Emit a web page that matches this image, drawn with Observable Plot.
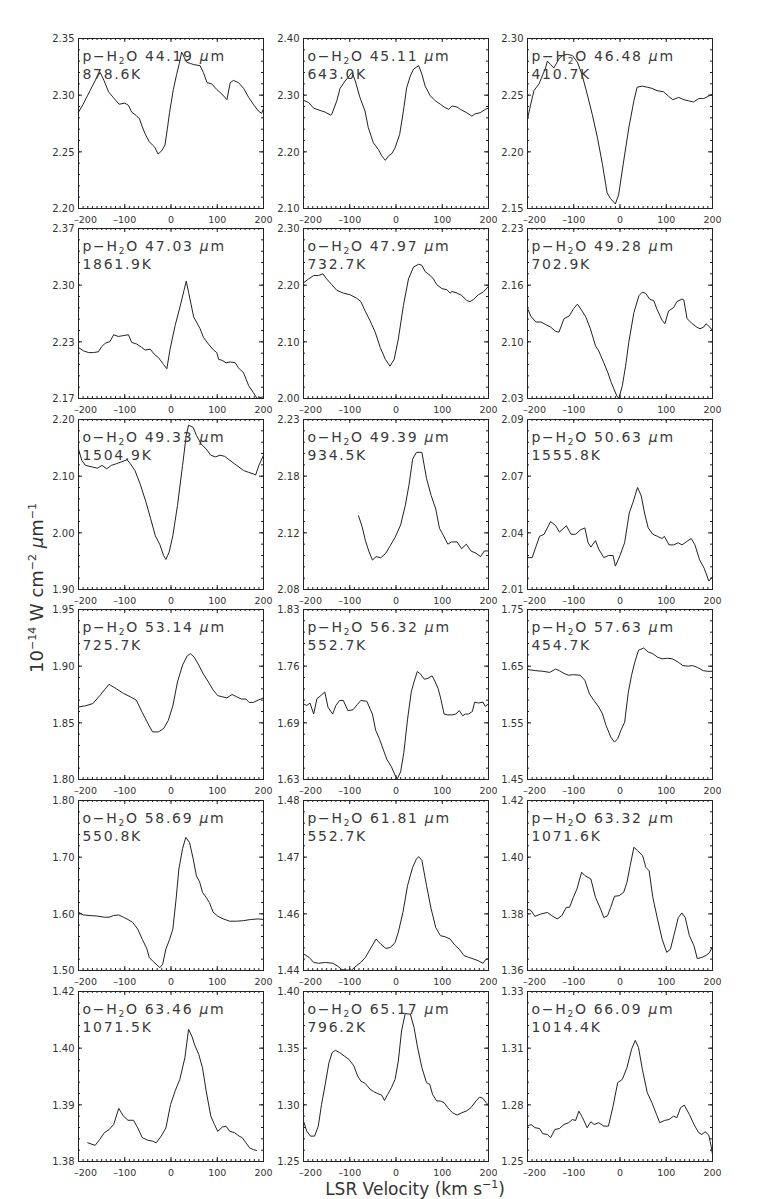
<!DOCTYPE html>
<html><head><meta charset="utf-8">
<script src="https://cdn.jsdelivr.net/npm/d3@7"></script>
<script src="https://cdn.jsdelivr.net/npm/@observablehq/plot@0.6"></script>
<style>
body{margin:0;background:#fff;}
#wrap{position:relative;width:763px;height:1199px;overflow:hidden;font-family:"DejaVu Sans",sans-serif;color:#333;}
#wrap svg{position:absolute;overflow:visible;}
#wrap g[aria-label="text"] text{letter-spacing:1.7px;}
.ylab{position:absolute;left:37px;top:588px;transform:translate(-50%,-50%) rotate(-90deg);white-space:nowrap;font-size:18px;line-height:20px;}
.xlab{position:absolute;left:415px;top:1179px;transform:translateX(-50%);white-space:nowrap;font-size:17px;line-height:20px;}
sup{font-size:11px;position:relative;top:-7px;vertical-align:baseline;line-height:0;}
</style></head>
<body><div id="wrap">
<div class="ylab">10<sup>−14</sup> W cm<sup>−2</sup> <i>μ</i>m<sup>−1</sup></div>
<div class="xlab">LSR Velocity (km s<sup>−1</sup>)</div>
</div>
<script>
const species = ["p","o","p","p","o","p","o","o","p","p","p","p","o","p","p","o","o","o"];
const wavelengths = ["44.19","45.11","46.48","47.03","47.97","49.28","49.33","49.39","50.63","53.14","56.32","57.63","58.69","61.81","63.32","63.46","65.17","66.09"];
const temperatures = ["878.6K","643.0K","410.7K","1861.9K","732.7K","702.9K","1504.9K","934.5K","1555.8K","725.7K","552.7K","454.7K","550.8K","552.7K","1071.6K","1071.5K","796.2K","1014.4K"];
const yDomains = [[2.20,2.35],[2.10,2.40],[2.15,2.30],[2.17,2.37],[2.00,2.30],[2.03,2.23],[1.90,2.20],[2.08,2.23],[2.01,2.09],[1.80,1.95],[1.63,1.83],[1.45,1.75],[1.50,1.80],[1.44,1.48],[1.36,1.42],[1.38,1.42],[1.25,1.40],[1.25,1.335]];
const yTickLabels = [
 ["2.20","2.25","2.30","2.35"],["2.10","2.20","2.30","2.40"],["2.15","2.20","2.25","2.30"],
 ["2.17","2.23","2.30","2.37"],["2.00","2.10","2.20","2.30"],["2.03","2.10","2.16","2.23"],
 ["1.90","2.00","2.10","2.20"],["2.08","2.12","2.18","2.23"],["2.01","2.04","2.07","2.09"],
 ["1.80","1.85","1.90","1.95"],["1.63","1.69","1.76","1.83"],["1.45","1.55","1.65","1.75"],
 ["1.50","1.60","1.70","1.80"],["1.44","1.46","1.47","1.48"],["1.36","1.38","1.40","1.42"],
 ["1.38","1.39","1.40","1.42"],["1.25","1.30","1.35","1.40"],["1.25","1.28","1.31","1.33"]];
const xTicks = [-200,-100,0,100,200];
const xTickLabels = ["–200","–100","0","100","200"];

const s01 = [[-200,2.285],[-190,2.292],[-180,2.300],[-170,2.308],[-160,2.316],[-153,2.320],[-145,2.313],[-135,2.303],[-125,2.298],[-112,2.292],[-100,2.293],[-92,2.291],[-85,2.285],[-75,2.282],[-68,2.279],[-62,2.272],[-55,2.265],[-47,2.259],[-40,2.256],[-35,2.254],[-28,2.248],[-20,2.251],[-13,2.256],[-8,2.270],[-3,2.285],[5,2.305],[12,2.318],[18,2.328],[23,2.338],[34,2.329],[42,2.328],[49,2.327],[63,2.326],[70,2.320],[78,2.311],[88,2.310],[99,2.305],[110,2.301],[121,2.296],[128,2.311],[135,2.313],[146,2.311],[157,2.306],[168,2.298],[178,2.292],[189,2.286],[196,2.284],[200,2.288]];
const s02 = [[-200,2.291],[-189,2.287],[-178,2.277],[-164,2.273],[-153,2.270],[-142,2.265],[-139,2.266],[-128,2.290],[-121,2.312],[-110,2.325],[-103,2.332],[-95,2.340],[-88,2.325],[-78,2.296],[-67,2.272],[-60,2.243],[-49,2.216],[-38,2.204],[-31,2.193],[-23,2.185],[-16,2.193],[-9,2.197],[-2,2.207],[8,2.231],[16,2.272],[23,2.313],[31,2.334],[38,2.346],[49,2.352],[56,2.337],[63,2.316],[74,2.299],[85,2.290],[96,2.284],[106,2.278],[114,2.275],[121,2.281],[132,2.279],[139,2.275],[153,2.269],[164,2.263],[171,2.267],[182,2.269],[193,2.275],[200,2.277]];
const s03 = [[-200,2.229],[-193,2.242],[-186,2.254],[-175,2.260],[-168,2.267],[-161,2.274],[-157,2.280],[-150,2.277],[-143,2.274],[-132,2.282],[-125,2.285],[-114,2.286],[-103,2.285],[-92,2.279],[-82,2.268],[-71,2.251],[-60,2.233],[-49,2.213],[-38,2.189],[-28,2.164],[-21,2.159],[-10,2.154],[-3,2.162],[8,2.192],[19,2.221],[30,2.245],[37,2.257],[48,2.258],[59,2.257],[69,2.256],[80,2.254],[94,2.253],[105,2.249],[114,2.246],[127,2.248],[138,2.246],[148,2.245],[159,2.244],[170,2.247],[181,2.247],[191,2.249],[200,2.251]];
const s04 = [[-200,2.230],[-189,2.226],[-178,2.224],[-168,2.224],[-157,2.225],[-150,2.231],[-142,2.235],[-132,2.237],[-124,2.245],[-114,2.243],[-103,2.244],[-92,2.245],[-85,2.236],[-74,2.234],[-63,2.230],[-56,2.227],[-45,2.228],[-36,2.222],[-27,2.218],[-16,2.210],[-9,2.205],[-2,2.228],[9,2.256],[20,2.279],[28,2.297],[33,2.308],[38,2.295],[49,2.266],[56,2.259],[63,2.252],[70,2.242],[81,2.234],[92,2.227],[99,2.224],[103,2.216],[110,2.215],[119,2.212],[128,2.213],[139,2.212],[146,2.206],[157,2.200],[168,2.185],[178,2.177],[186,2.170],[200,2.172]];
const s05 = [[-200,2.204],[-189,2.211],[-178,2.217],[-168,2.217],[-158,2.220],[-150,2.211],[-139,2.201],[-128,2.191],[-114,2.186],[-99,2.183],[-85,2.177],[-76,2.171],[-67,2.155],[-56,2.137],[-45,2.117],[-34,2.090],[-23,2.069],[-13,2.057],[-4,2.069],[5,2.105],[16,2.164],[27,2.211],[38,2.232],[49,2.237],[56,2.235],[63,2.224],[74,2.217],[81,2.211],[88,2.201],[99,2.194],[110,2.192],[117,2.186],[121,2.189],[132,2.186],[142,2.182],[153,2.173],[160,2.171],[168,2.175],[178,2.183],[189,2.188],[200,2.198]];
const s06 = [[-200,2.136],[-193,2.127],[-182,2.120],[-171,2.120],[-164,2.118],[-150,2.114],[-139,2.109],[-132,2.108],[-121,2.124],[-110,2.127],[-100,2.136],[-92,2.141],[-82,2.133],[-74,2.126],[-64,2.112],[-53,2.092],[-46,2.086],[-35,2.072],[-26,2.060],[-19,2.049],[-13,2.041],[-6,2.032],[-2,2.031],[5,2.045],[12,2.068],[19,2.096],[30,2.131],[41,2.151],[48,2.155],[55,2.154],[64,2.147],[73,2.145],[80,2.135],[91,2.122],[97,2.118],[105,2.133],[116,2.137],[123,2.144],[134,2.147],[138,2.146],[145,2.124],[156,2.118],[166,2.114],[173,2.112],[181,2.114],[186,2.118],[194,2.114],[200,2.110]];
const s07 = [[-200,2.148],[-193,2.128],[-185,2.119],[-169,2.116],[-159,2.114],[-149,2.119],[-139,2.113],[-129,2.119],[-118,2.122],[-108,2.125],[-95,2.129],[-88,2.122],[-78,2.110],[-67,2.087],[-54,2.054],[-44,2.025],[-34,1.995],[-24,1.979],[-16,1.960],[-11,1.953],[-4,1.966],[4,1.995],[14,2.048],[25,2.119],[33,2.172],[38,2.190],[48,2.186],[55,2.172],[65,2.157],[76,2.148],[86,2.137],[96,2.134],[106,2.137],[116,2.135],[127,2.128],[137,2.122],[147,2.116],[157,2.110],[167,2.107],[178,2.104],[183,2.102],[190,2.119],[200,2.137]];
const s08 = [[-81,2.145],[-73,2.135],[-66,2.123],[-59,2.114],[-51,2.106],[-43,2.109],[-33,2.108],[-22,2.112],[-12,2.119],[-2,2.126],[10,2.137],[20,2.154],[28,2.172],[36,2.195],[44,2.201],[56,2.201],[66,2.178],[76,2.163],[86,2.151],[94,2.134],[102,2.128],[112,2.120],[120,2.122],[132,2.122],[142,2.116],[152,2.120],[162,2.114],[173,2.112],[183,2.109],[191,2.114],[200,2.114]];
const s09 = [[-200,2.025],[-190,2.025],[-182,2.030],[-174,2.035],[-164,2.036],[-157,2.039],[-150,2.042],[-139,2.040],[-131,2.037],[-121,2.039],[-116,2.040],[-106,2.036],[-96,2.036],[-86,2.038],[-76,2.039],[-69,2.032],[-63,2.030],[-53,2.033],[-46,2.029],[-35,2.025],[-25,2.026],[-15,2.026],[-10,2.021],[0,2.026],[10,2.032],[20,2.046],[28,2.051],[38,2.058],[46,2.054],[53,2.046],[61,2.039],[71,2.036],[81,2.035],[91,2.034],[96,2.035],[106,2.031],[116,2.031],[126,2.032],[134,2.031],[147,2.033],[154,2.034],[162,2.031],[172,2.024],[182,2.020],[192,2.014],[200,2.016]];
const s10 = [[-200,1.864],[-185,1.865],[-169,1.867],[-154,1.874],[-144,1.879],[-134,1.884],[-118,1.880],[-103,1.876],[-88,1.873],[-75,1.870],[-62,1.859],[-52,1.851],[-40,1.842],[-27,1.842],[-16,1.845],[-6,1.852],[4,1.865],[14,1.886],[25,1.901],[35,1.909],[42,1.911],[50,1.908],[60,1.901],[70,1.893],[81,1.886],[91,1.879],[101,1.874],[111,1.873],[121,1.872],[132,1.875],[142,1.873],[152,1.871],[162,1.871],[169,1.868],[178,1.868],[188,1.870],[200,1.872]];
const s11 = [[-200,1.719],[-193,1.717],[-186,1.720],[-178,1.707],[-171,1.725],[-162,1.729],[-154,1.733],[-147,1.715],[-137,1.707],[-130,1.717],[-122,1.723],[-114,1.723],[-104,1.711],[-93,1.712],[-84,1.718],[-76,1.723],[-63,1.722],[-56,1.713],[-51,1.707],[-44,1.688],[-36,1.678],[-28,1.666],[-20,1.654],[-10,1.645],[-2,1.635],[3,1.631],[10,1.639],[17,1.662],[25,1.701],[33,1.733],[39,1.745],[46,1.757],[53,1.754],[61,1.748],[69,1.749],[78,1.752],[83,1.747],[91,1.737],[96,1.727],[104,1.707],[112,1.706],[122,1.706],[129,1.707],[137,1.711],[144,1.705],[150,1.707],[157,1.707],[165,1.710],[170,1.721],[178,1.720],[188,1.721],[193,1.716],[200,1.719]];
const s12 = [[-200,1.644],[-182,1.642],[-167,1.641],[-152,1.639],[-139,1.645],[-131,1.642],[-121,1.637],[-111,1.634],[-101,1.635],[-86,1.634],[-76,1.625],[-66,1.601],[-56,1.589],[-46,1.578],[-38,1.566],[-30,1.545],[-20,1.525],[-12,1.516],[-5,1.522],[2,1.537],[10,1.551],[18,1.604],[25,1.634],[32,1.657],[40,1.678],[51,1.682],[61,1.675],[71,1.672],[81,1.666],[91,1.663],[103,1.664],[113,1.663],[126,1.657],[136,1.651],[147,1.650],[157,1.651],[167,1.648],[180,1.642],[190,1.641],[200,1.641]];
const s13 = [[-200,1.603],[-190,1.598],[-175,1.597],[-159,1.596],[-144,1.594],[-134,1.594],[-124,1.597],[-113,1.598],[-103,1.594],[-93,1.590],[-83,1.585],[-72,1.573],[-62,1.555],[-52,1.538],[-47,1.523],[-40,1.517],[-32,1.511],[-24,1.505],[-18,1.511],[-11,1.538],[-3,1.555],[4,1.573],[11,1.626],[17,1.679],[25,1.715],[32,1.735],[40,1.726],[48,1.697],[55,1.667],[62,1.656],[68,1.638],[76,1.629],[83,1.620],[91,1.603],[101,1.596],[113,1.591],[127,1.587],[142,1.587],[157,1.588],[172,1.590],[188,1.591],[200,1.590]];
const s14 = [[-200,1.4439],[-188,1.4431],[-178,1.4419],[-168,1.4417],[-152,1.4419],[-137,1.4417],[-127,1.4411],[-117,1.4402],[-107,1.4401],[-96,1.4401],[-86,1.4411],[-76,1.4419],[-66,1.4431],[-56,1.4450],[-43,1.4474],[-33,1.4462],[-22,1.4452],[-12,1.4454],[-2,1.4466],[5,1.4490],[15,1.4537],[25,1.4600],[36,1.4643],[44,1.4662],[49,1.4668],[56,1.4659],[66,1.4600],[76,1.4545],[86,1.4501],[96,1.4482],[107,1.4479],[117,1.4474],[127,1.4460],[137,1.4450],[147,1.4435],[157,1.4431],[168,1.4427],[178,1.4423],[188,1.4417],[195,1.4427],[200,1.4427]];
const s15 = [[-200,1.3817],[-192,1.3811],[-184,1.3791],[-172,1.3799],[-157,1.3805],[-147,1.3793],[-136,1.3782],[-126,1.3793],[-116,1.3823],[-109,1.3823],[-101,1.3858],[-93,1.3888],[-83,1.3947],[-76,1.3935],[-63,1.3923],[-53,1.3858],[-42,1.3817],[-35,1.3787],[-27,1.3793],[-20,1.3823],[-12,1.3862],[-2,1.3864],[8,1.3876],[15,1.3911],[22,1.3970],[30,1.4035],[38,1.4023],[49,1.4005],[56,1.3964],[63,1.3952],[71,1.3858],[81,1.3782],[91,1.3711],[101,1.3664],[109,1.3675],[119,1.3740],[126,1.3787],[134,1.3803],[141,1.3787],[150,1.3723],[160,1.3687],[167,1.3642],[177,1.3646],[187,1.3654],[194,1.3664],[200,1.3685]];
const s16 = [[-180,1.3844],[-164,1.3838],[-154,1.3852],[-144,1.3868],[-134,1.3875],[-124,1.3887],[-113,1.3925],[-103,1.3907],[-93,1.3897],[-81,1.3897],[-72,1.3879],[-62,1.3856],[-50,1.3850],[-40,1.3848],[-32,1.3844],[-21,1.3860],[-11,1.3879],[-1,1.3934],[9,1.3966],[19,1.3993],[30,1.4044],[38,1.4111],[45,1.4095],[52,1.4072],[60,1.4052],[68,1.4021],[76,1.3966],[86,1.3907],[94,1.3887],[101,1.3871],[111,1.3881],[119,1.3883],[127,1.3871],[137,1.3868],[147,1.3860],[154,1.3856],[162,1.3844],[170,1.3832],[178,1.3828],[185,1.3826]];
const s17 = [[-200,1.2857],[-193,1.2768],[-185,1.2724],[-176,1.2724],[-168,1.2812],[-161,1.3004],[-153,1.3181],[-145,1.3372],[-138,1.3461],[-131,1.3481],[-122,1.3461],[-112,1.3431],[-102,1.3402],[-91,1.3343],[-83,1.3254],[-76,1.3210],[-66,1.3187],[-56,1.3137],[-48,1.3116],[-39,1.3098],[-31,1.3086],[-25,1.3039],[-18,1.3092],[-10,1.3151],[-2,1.3225],[5,1.3387],[12,1.3652],[20,1.3805],[31,1.3800],[39,1.3682],[46,1.3520],[56,1.3328],[66,1.3195],[73,1.3181],[79,1.3092],[88,1.3034],[96,1.3034],[104,1.3019],[112,1.2975],[122,1.2930],[132,1.2910],[142,1.2930],[152,1.2945],[162,1.2975],[173,1.3034],[181,1.3069],[188,1.3057],[195,1.3019],[200,1.2998]];
const s18 = [[-200,1.2677],[-192,1.2685],[-184,1.2669],[-174,1.2665],[-167,1.2639],[-157,1.2635],[-150,1.2619],[-141,1.2660],[-131,1.2665],[-121,1.2685],[-111,1.2694],[-103,1.2710],[-96,1.2705],[-89,1.2752],[-81,1.2719],[-71,1.2669],[-63,1.2699],[-56,1.2685],[-46,1.2694],[-35,1.2677],[-25,1.2677],[-15,1.2777],[-5,1.2894],[5,1.2911],[15,1.2969],[25,1.3061],[33,1.3106],[40,1.3070],[49,1.2953],[59,1.2844],[69,1.2794],[79,1.2735],[86,1.2694],[96,1.2705],[106,1.2710],[116,1.2727],[123,1.2719],[131,1.2769],[139,1.2782],[150,1.2735],[160,1.2685],[170,1.2644],[177,1.2635],[184,1.2649],[192,1.2632],[197,1.2577],[200,1.2535]];
const series = [s01,s02,s03,s04,s05,s06,s07,s08,s09,s10,s11,s12,s13,s14,s15,s16,s17,s18];

const colLeft = [78, 303, 527];
const rowTop = [38, 228, 419, 609, 800, 991];
const W = 185, H = 170;
const mL = 34, mR = 14, mT = 6, mB = 24;
const ink = "#222";
const wrap = document.getElementById("wrap");
const xMinor = d3.range(-200, 201, 10);
const xLab = new Map(xTicks.map((v, k) => [v, xTickLabels[k]]));
const SVGNS = "http://www.w3.org/2000/svg";

function styleTitle(svg) {
  svg.querySelectorAll('g[aria-label="text"] tspan').forEach(t => {
    const str = t.textContent;
    if (!str.includes("₂")) return;
    const [pre, rest] = str.split("H₂O");
    const [mid, post] = rest.split("μ");
    t.textContent = "";
    const add = (txt, attrs) => {
      const s = document.createElementNS(SVGNS, "tspan");
      s.textContent = txt;
      if (attrs) for (const k in attrs) s.setAttribute(k, attrs[k]);
      t.appendChild(s);
    };
    add(pre + "H");
    add("2", {"font-size": "9", "dy": "3"});
    add("O" + mid, {"dy": "-3"});
    add("μ", {"font-style": "italic"});
    add(post);
  });
}

series.forEach((s, i) => {
  const col = i % 3, row = Math.floor(i / 3);
  const [y0, y1] = yDomains[i];
  const yMajor = d3.range(4).map(k => y0 + k * (y1 - y0) / 3);
  const yMinor = d3.range(16).map(k => y0 + k * (y1 - y0) / 15);
  const yLab = new Map(yMajor.map((v, k) => [v, yTickLabels[i][k]]));
  const title = `${species[i]}−H₂O ${wavelengths[i]} μm\n${temperatures[i]}`;
  const svg = Plot.plot({
    width: mL + W + mR, height: mT + H + mB,
    marginLeft: mL, marginRight: mR, marginTop: mT, marginBottom: mB,
    x: {domain: [-200, 200]},
    y: {domain: [y0, y1]},
    style: {fontFamily: "DejaVu Sans, sans-serif", fontSize: "10px", color: "#333", background: "transparent", overflow: "visible"},
    marks: [
      Plot.tickX(xTicks, {x: d => d, insetTop: H - 4, stroke: ink}),
      Plot.tickX(xTicks, {x: d => d, insetBottom: H - 4, stroke: ink}),
      Plot.tickX(xMinor, {x: d => d, insetTop: H - 2, stroke: ink}),
      Plot.tickX(xMinor, {x: d => d, insetBottom: H - 2, stroke: ink}),
      Plot.tickY(yMajor, {y: d => d, insetRight: W - 4, stroke: ink}),
      Plot.tickY(yMajor, {y: d => d, insetLeft: W - 4, stroke: ink}),
      Plot.tickY(yMinor, {y: d => d, insetRight: W - 2, stroke: ink}),
      Plot.tickY(yMinor, {y: d => d, insetLeft: W - 2, stroke: ink}),
      Plot.axisX(xTicks.slice(0, 1), {tickSize: 0, tickPadding: 7.5, dx: 7, fontSize: 9.5, tickFormat: d => xLab.get(d), fill: "#333"}),
      Plot.axisX(xTicks.slice(1), {tickSize: 0, tickPadding: 7.5, fontSize: 9.5, tickFormat: d => xLab.get(d), fill: "#333"}),
      Plot.axisY(yMajor, {tickSize: 0, tickPadding: 4, dy: 0.5, tickFormat: d => yLab.get(d), fill: "#333"}),
      Plot.line(s, {stroke: ink, strokeWidth: 1}),
      Plot.text([title], {frameAnchor: "top-left", text: d => d, dx: 4, dy: 9, lineAnchor: "top", lineHeight: 1.32, fontSize: 14, fill: "#3a3a3a", textAnchor: "start"}),
      Plot.frame({stroke: ink})
    ]
  });
  styleTitle(svg);
  svg.style.left = (colLeft[col] - mL) + "px";
  svg.style.top = (rowTop[row] - mT) + "px";
  wrap.appendChild(svg);
});
</script>
</body></html>
